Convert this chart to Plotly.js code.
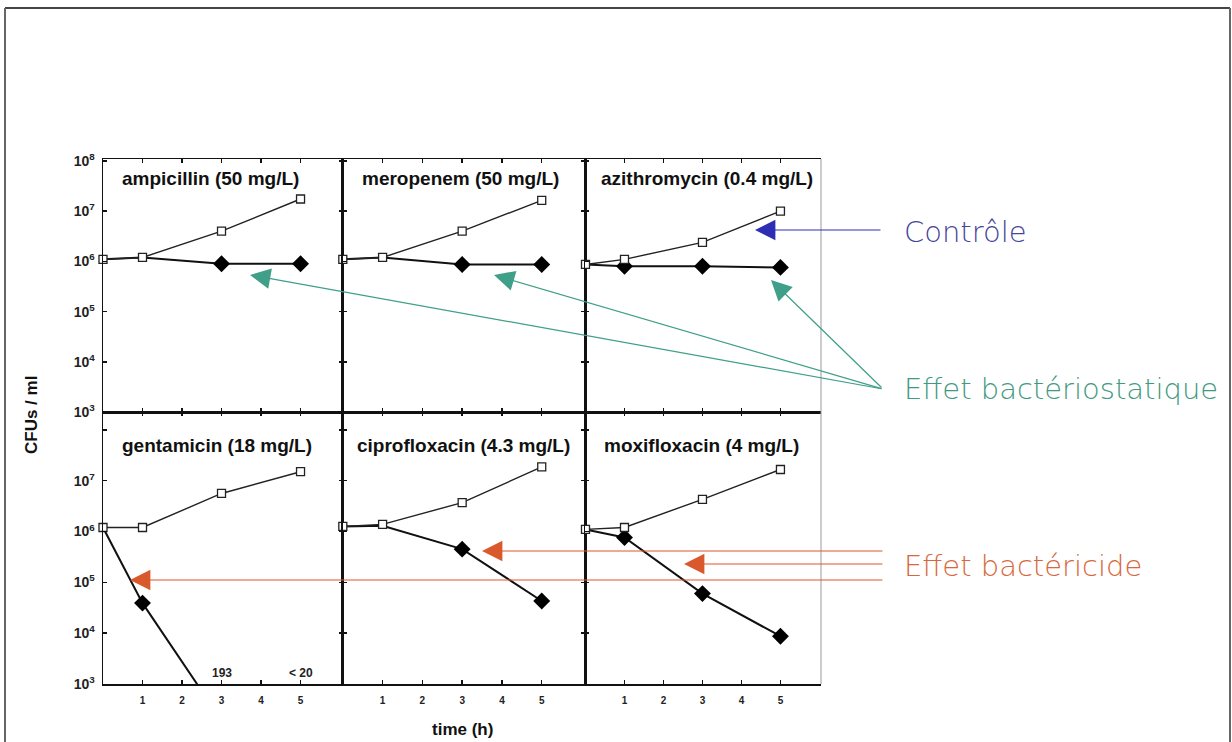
<!DOCTYPE html>
<html>
<head>
<meta charset="utf-8">
<script src="https://cdn.plot.ly/plotly-3.0.1.min.js"></script>
<style>html,body{margin:0;padding:0;background:#fff;}#chart{width:1232px;height:742px;}</style>
</head>
<body>
<div id="chart"></div>
<script>
// ---- data (CFU / ml) ----
const timeH = [0, 1, 3, 5];
const panelNames = ["ampicillin (50 mg/L)", "meropenem (50 mg/L)", "azithromycin (0.4 mg/L)",
                    "gentamicin (18 mg/L)", "ciprofloxacin (4.3 mg/L)", "moxifloxacin (4 mg/L)"];
const ampicillinControl   = [1.1e6, 1.2e6, 4.0e6, 1.75e7];
const ampicillinTreated   = [1.1e6, 1.2e6, 9.0e5, 9.0e5];
const meropenemControl    = [1.1e6, 1.2e6, 4.0e6, 1.65e7];
const meropenemTreated    = [1.1e6, 1.2e6, 8.7e5, 8.7e5];
const azithromycinControl = [8.7e5, 1.1e6, 2.4e6, 1.0e7];
const azithromycinTreated = [8.7e5, 8.0e5, 8.0e5, 7.6e5];
const gentamicinControl   = [1.2e6, 1.2e6, 5.6e6, 1.5e7];
const gentamicinTime      = [0, 1, 3];
const gentamicinTreated   = [1.2e6, 3.9e4, 193];
const ciprofloxacinControl = [1.26e6, 1.38e6, 3.7e6, 1.86e7];
const ciprofloxacinTreated = [1.26e6, 1.3e6, 4.5e5, 4.3e4];
const moxifloxacinControl  = [1.1e6, 1.2e6, 4.3e6, 1.66e7];
const moxifloxacinTreated  = [1.1e6, 7.6e5, 6.0e4, 8.7e3];
const gentamicinCounts = ["193", "< 20"];
const gentamicinCountTimes = [3, 5];
const yTickVals = [1e3, 1e4, 1e5, 1e6, 1e7, 1e8];
const yTickTextTop = ["10<sup>3</sup>", "10<sup>4</sup>", "10<sup>5</sup>", "10<sup>6</sup>", "10<sup>7</sup>", "10<sup>8</sup>"];
const yTickTextBottom = ["10<sup>3</sup>", "10<sup>4</sup>", "10<sup>5</sup>", "10<sup>6</sup>", "10<sup>7</sup>", ""];
const xTickVals = [1, 2, 3, 4, 5];
const effectLabels = ["Contrôle", "Effet bactériostatique", "Effet bactéricide"];

const panels = [
  {ctl: ampicillinControl, trtX: timeH, trt: ampicillinTreated},
  {ctl: meropenemControl, trtX: timeH, trt: meropenemTreated},
  {ctl: azithromycinControl, trtX: timeH, trt: azithromycinTreated},
  {ctl: gentamicinControl, trtX: gentamicinTime, trt: gentamicinTreated},
  {ctl: ciprofloxacinControl, trtX: timeH, trt: ciprofloxacinTreated},
  {ctl: moxifloxacinControl, trtX: timeH, trt: moxifloxacinTreated}
];

// ---- layout geometry ----
const W = 1232, H = 742;
const L = 103, R = 821, T = 159, B = 684;
const px2x = p => (p - L) / (R - L);
const py2y = p => (B - p) / (B - T);
const colDom = [[0, 0.334], [0.334, 0.672], [0.672, 1]];
const rowDom = [[0.518, 1], [0, 0.518]];
const xRanges = [[0, 6.07], [0, 6.1], [0, 6.04]];
const yRanges = [[3, 8.04], [3, 8.35]];

const data = [];
const layout = {
  width: W, height: H,
  margin: {l: L, r: W - R, t: T, b: H - B, pad: 0},
  paper_bgcolor: "#fff", plot_bgcolor: "#fff",
  showlegend: false,
  font: {family: "Liberation Sans, Arial, sans-serif", color: "#111"},
  annotations: [], shapes: []
};

panels.forEach((p, i) => {
  const row = Math.floor(i / 3), col = i % 3;
  const k = i === 0 ? "" : String(i + 1);
  const xa = "x" + k, ya = "y" + k;
  // a diamond is hidden where it coincides with the control square
  const dSizes = p.trtX.map((t, j) => {
    const ci = timeH.indexOf(t);
    return Math.abs(Math.log10(p.trt[j]) - Math.log10(p.ctl[ci])) < 0.06 ? 0 : 13;
  });
  data.push({
    x: p.trtX, y: p.trt, xaxis: xa, yaxis: ya, type: "scatter", mode: "lines+markers",
    line: {color: "#111", width: 2},
    marker: {symbol: "diamond", size: dSizes, color: "#000", opacity: 1, line: {width: 0}},
    cliponaxis: true
  });
  data.push({
    x: timeH, y: p.ctl, xaxis: xa, yaxis: ya, type: "scatter", mode: "lines+markers",
    line: {color: "#222", width: 1.4},
    marker: {symbol: "square", size: 8, color: "#fff", opacity: 1, line: {color: "#222", width: 1.3}},
    cliponaxis: false
  });
  layout["xaxis" + k] = {
    domain: colDom[col], anchor: ya, range: xRanges[col],
    showline: true, linecolor: "#111", linewidth: 1.5, mirror: "ticks",
    ticks: "inside", ticklen: 4, tickwidth: 1.5, tickcolor: "#111",
    tickvals: xTickVals, showticklabels: row === 1, ticklabelstandoff: 6,
    tickfont: {size: 10, color: "#222", weight: "bold"},
    showgrid: false, zeroline: false, fixedrange: true
  };
  layout["yaxis" + k] = {
    domain: rowDom[row], anchor: xa, type: "log", range: yRanges[row],
    showline: true, linecolor: "#111", linewidth: 1.5, mirror: col === 2 ? false : "ticks",
    ticks: "inside", ticklen: 4, tickwidth: 1.5, tickcolor: "#111",
    tickvals: yTickVals, ticktext: row === 0 ? yTickTextTop : yTickTextBottom, showticklabels: col === 0,
    ticklabelstandoff: 4,
    tickfont: {size: 14, color: "#222", weight: "bold"},
    showgrid: false, zeroline: false, fixedrange: true
  };
  // panel title
  const titleX = [210, 460, 707, 217, 463, 701][i];
  const titleY = row === 0 ? 178 : 445;
  layout.annotations.push({
    xref: "paper", yref: "paper", x: px2x(titleX), y: py2y(titleY),
    text: panelNames[i], showarrow: false, xanchor: "center", yanchor: "middle",
    font: {size: 19, color: "#111", weight: "bold"}
  });
});

// right border of last column (thin gray)
layout.shapes.push({type: "line", xref: "paper", yref: "paper", x0: 1, x1: 1, y0: 0, y1: 1,
  line: {color: "#999", width: 1}});
// slide frame
layout.shapes.push({type: "line", xref: "paper", yref: "paper", x0: px2x(5), x1: px2x(1230), y0: py2y(8), y1: py2y(8), line: {color: "#444", width: 2}});
layout.shapes.push({type: "line", xref: "paper", yref: "paper", x0: px2x(5), x1: px2x(5), y0: py2y(8), y1: py2y(742), line: {color: "#666", width: 2}});
layout.shapes.push({type: "line", xref: "paper", yref: "paper", x0: px2x(1230), x1: px2x(1230), y0: py2y(8), y1: py2y(742), line: {color: "#666", width: 2}});

// gentamicin count labels
gentamicinCounts.forEach((t, j) => {
  layout.annotations.push({
    xref: "x4", yref: "paper", x: gentamicinCountTimes[j], y: py2y(673),
    text: t, showarrow: false, xanchor: "center", yanchor: "middle",
    font: {size: 12, color: "#222", weight: "bold"}
  });
});

// axis titles
layout.annotations.push({xref: "paper", yref: "paper", x: px2x(31), y: py2y(415), text: "CFUs / ml",
  textangle: -90, showarrow: false, xanchor: "center", yanchor: "middle",
  font: {size: 17, color: "#111", weight: "bold"}});
layout.annotations.push({xref: "paper", yref: "paper", x: px2x(462), y: py2y(729), text: "time (h)",
  showarrow: false, xanchor: "center", yanchor: "middle",
  font: {size: 17, color: "#111", weight: "bold"}});

// effect labels
const effFont = {family: "DejaVu Sans, sans-serif", size: 29, weight: 300};
const effColors = ["#45459a", "#3f9a80", "#d8683c"];
const effY = [232, 389, 566];
effectLabels.forEach((t, j) => {
  layout.annotations.push({xref: "paper", yref: "paper", x: px2x(902), y: py2y(effY[j]), text: t,
    showarrow: false, xanchor: "left", yanchor: "middle", font: Object.assign({color: effColors[j]}, effFont)});
});

// arrows
function arrow(tip, tail, color) {
  layout.annotations.push({
    xref: "paper", yref: "paper", x: px2x(tip[0]), y: py2y(tip[1]),
    ax: tail[0] - tip[0], ay: tail[1] - tip[1], axref: "pixel", ayref: "pixel",
    text: "", showarrow: true, arrowhead: 2, arrowsize: 3.4, arrowwidth: 1.2, arrowcolor: color, standoff: 0
  });
}
arrow([755, 230], [882, 230], "#2e2eb4");
arrow([250, 275], [883, 389], "#3f9f88");
arrow([494, 275], [883, 389], "#3f9f88");
arrow([771, 280], [883, 389], "#3f9f88");
arrow([482, 551], [884, 551], "#d9582c");
arrow([684, 564], [884, 564], "#d9582c");
arrow([130, 580], [884, 580], "#d9582c");

Plotly.newPlot("chart", data, layout, {staticPlot: true, displayModeBar: false});
</script>
</body>
</html>
